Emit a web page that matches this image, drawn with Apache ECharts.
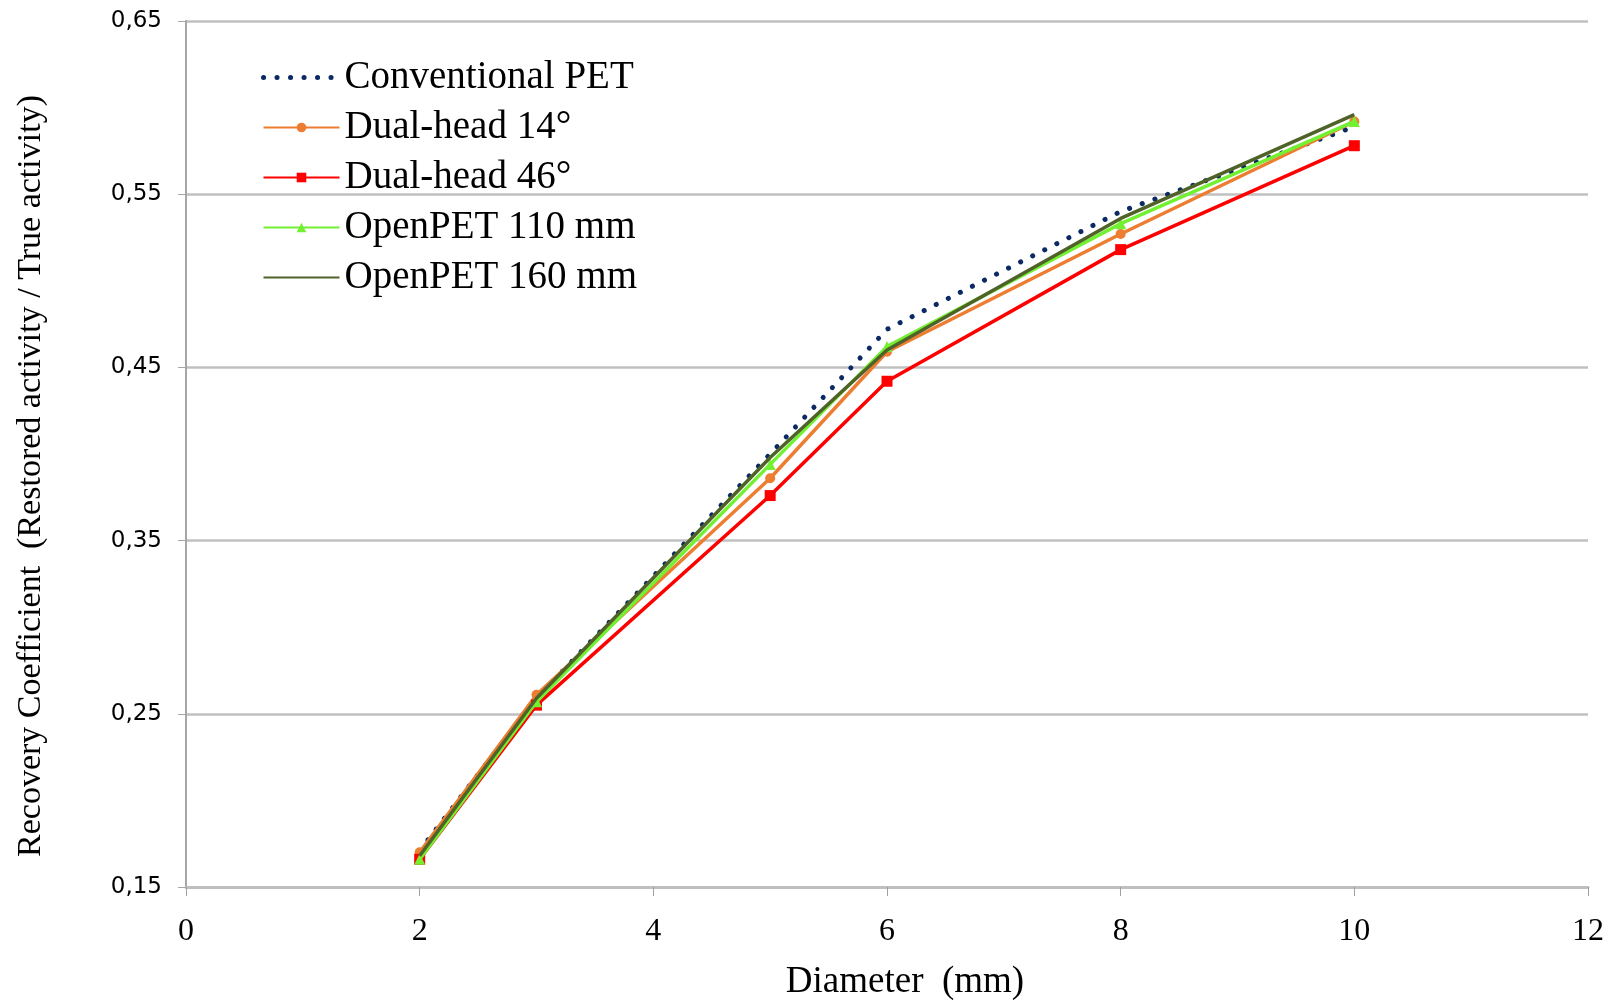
<!DOCTYPE html>
<html><head><meta charset="utf-8">
<script src="https://cdn.jsdelivr.net/npm/echarts@6/dist/echarts.min.js"></script>
<style>html,body{margin:0;padding:0;background:#fff}#c{width:1622px;height:1000px}</style>
</head><body><div id="c"></div>
<script>
const diameters = [2, 3, 5, 6, 8, 10];
const conventionalPET = [0.171, 0.259, 0.400, 0.472, 0.540, 0.589];
const dualHead14 = [0.170, 0.261, 0.386, 0.459, 0.527, 0.592];
const dualHead46 = [0.166, 0.255, 0.376, 0.442, 0.518, 0.578];
const openPET110 = [0.166, 0.257, 0.394, 0.462, 0.533, 0.592];
const openPET160 = [0.168, 0.259, 0.398, 0.460, 0.536, 0.596];
const yTicks = ['0,15', '0,25', '0,35', '0,45', '0,55', '0,65'];
const Y0 = 0.15; // axis base

function pts(vals) { return diameters.map((d, i) => [d, +(vals[i] - Y0).toFixed(4)]); }

const chart = echarts.init(document.getElementById('c'), null, {renderer: 'canvas'});
const serif = 'Liberation Serif';
const hidden = {color: 'transparent', borderWidth: 0, opacity: 0};
chart.setOption({
  animation: false,
  backgroundColor: '#fff',
  grid: {left: 186, right: 34, top: 21, bottom: 113, containLabel: false, outerBoundsMode: 'none'},
  legend: {
    orient: 'vertical', left: 256, top: 53, itemWidth: 76, itemHeight: 12, itemGap: 11,
    textStyle: {fontFamily: serif, fontSize: 39, color: '#000'},
    data: [
      {name: 'Conventional PET', itemStyle: hidden, lineStyle: {width: 5, type: [0.1, 13.4], cap: 'round', color: '#0b2a63'}},
      'Dual-head 14°', 'Dual-head 46°', 'OpenPET 110 mm',
      {name: 'OpenPET 160 mm', itemStyle: hidden}
    ]
  },
  xAxis: {
    type: 'value', min: 0, max: 12, interval: 2,
    name: 'Diameter  (mm)', nameLocation: 'middle', nameGap: 77,
    nameTextStyle: {fontFamily: serif, fontSize: 37, color: '#000', padding: [0, 0, 0, 36]},
    axisLine: {show: true, onZero: false, lineStyle: {color: '#bfbfbf', width: 3}},
    axisTick: {show: true, length: 9, lineStyle: {color: '#a0a0a0', width: 1}},
    axisLabel: {fontFamily: serif, fontSize: 32, color: '#000', margin: 29},
    splitLine: {show: false}
  },
  yAxis: {
    type: 'value', min: 0, max: 0.5, interval: 0.1,
    name: 'Recovery Coefficient  (Restored activity / True activity)', nameLocation: 'middle', nameGap: 138,
    nameTextStyle: {fontFamily: serif, fontSize: 34, color: '#000', padding: [0, 44, 0, 0]},
    axisLine: {show: true, lineStyle: {color: '#a6a6a6', width: 2}},
    axisTick: {show: true, length: 8, lineStyle: {color: '#a6a6a6', width: 1}},
    axisLabel: {fontFamily: 'DejaVu Sans', fontSize: 23, color: '#000', margin: 24,
      formatter: v => yTicks[Math.round(v / 0.1)]},
    splitLine: {show: true, lineStyle: {color: '#c0c0c0', width: 2.5}}
  },
  series: [
    {name: 'Conventional PET', type: 'line', data: pts(conventionalPET), symbol: 'none',
      lineStyle: {color: '#0b2a63', width: 5, type: [0.1, 13.4], cap: 'round'}, itemStyle: {color: '#0b2a63'}, z: 2},
    {name: 'Dual-head 14°', type: 'line', data: pts(dualHead14), symbol: 'circle', symbolSize: 10,
      lineStyle: {color: '#ed7d31', width: 3.5}, itemStyle: {color: '#ed7d31'}, z: 3},
    {name: 'Dual-head 46°', type: 'line', data: pts(dualHead46), symbol: 'rect', symbolSize: 11,
      lineStyle: {color: '#ff0000', width: 3.5}, itemStyle: {color: '#ff0000'}, z: 4},
    {name: 'OpenPET 110 mm', type: 'line', data: pts(openPET110), symbol: 'triangle', symbolSize: 11,
      lineStyle: {color: '#72f031', width: 3.5}, itemStyle: {color: '#72f031'}, z: 5},
    {name: 'OpenPET 160 mm', type: 'line', data: pts(openPET160), symbol: 'none',
      lineStyle: {color: '#4f6228', width: 3.5}, itemStyle: {color: '#4f6228'}, z: 6}
  ]
});
</script></body></html>
